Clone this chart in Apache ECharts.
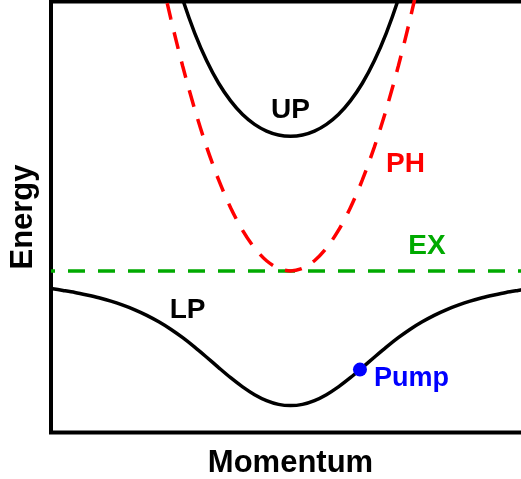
<!DOCTYPE html>
<html>
<head>
<meta charset="utf-8">
<script src="https://cdn.jsdelivr.net/npm/echarts@6/dist/echarts.min.js"></script>
<style>
  html, body { margin: 0; padding: 0; background: #fff; overflow: hidden; }
  /* the frame runs past the right edge of the window */
  #chart { width: 530px; height: 479px; }
</style>
</head>
<body>
<div id="chart"></div>
<script>
// In-plane momentum samples (arbitrary units, centred on k = 0)
const momentum = [
  -1.00, -0.95, -0.90, -0.85, -0.80, -0.75, -0.70, -0.65, -0.60, -0.55, -0.50,
  -0.45, -0.40, -0.35, -0.30, -0.25, -0.20, -0.15, -0.10, -0.05, 0.00,
  0.05, 0.10, 0.15, 0.20, 0.25, 0.30, 0.35, 0.40, 0.45, 0.50,
  0.55, 0.60, 0.65, 0.70, 0.75, 0.80, 0.85, 0.90, 0.95, 1.00
];
// Lower polariton branch energy (exciton level = 0)
const lowerPolariton = [
  -0.131, -0.145, -0.160, -0.179, -0.200, -0.225, -0.255, -0.289, -0.330, -0.378, -0.433,
  -0.496, -0.566, -0.641, -0.718, -0.793, -0.861, -0.919, -0.963, -0.991, -1.000,
  -0.991, -0.963, -0.919, -0.861, -0.793, -0.718, -0.641, -0.566, -0.496, -0.433,
  -0.378, -0.330, -0.289, -0.255, -0.225, -0.200, -0.179, -0.160, -0.145, -0.131
];
// Momentum samples near the band centre (upper branch and photon)
const momentumNear = [
  -0.60, -0.55, -0.50, -0.45, -0.40, -0.35, -0.30, -0.25, -0.20, -0.15, -0.10, -0.05, 0.00,
  0.05, 0.10, 0.15, 0.20, 0.25, 0.30, 0.35, 0.40, 0.45, 0.50, 0.55, 0.60
];
const upperPolariton = [
  3.030, 2.647, 2.308, 2.015, 1.766, 1.560, 1.393, 1.262, 1.161, 1.088, 1.038, 1.009, 1.000,
  1.009, 1.038, 1.088, 1.161, 1.262, 1.393, 1.560, 1.766, 2.015, 2.308, 2.647, 3.030
];
const photon = [
  2.700, 2.269, 1.875, 1.519, 1.200, 0.919, 0.675, 0.469, 0.300, 0.169, 0.075, 0.019, 0.000,
  0.019, 0.075, 0.169, 0.300, 0.469, 0.675, 0.919, 1.200, 1.519, 1.875, 2.269, 2.700
];
// Flat exciton level
const excitonMomentum = [-1.00, 1.00];
const exciton = [0.00, 0.00];
// Pump point on the lower branch
const pumpMomentum = 0.29;
const pumpEnergy = -0.733;

// Branch names and where they are written (data coordinates)
const branchNames = ['UP', 'PH', 'EX', 'LP'];
const branchColors = ['#000000', '#ff0000', '#00aa00', '#000000'];
const branchLabelAt = [[0.00, 1.195], [0.48, 0.795], [0.57, 0.185], [-0.43, -0.29]];

const FONT = '"Liberation Sans", Arial, sans-serif';
const zip = (xs, ys) => xs.map((x, i) => [x, ys[i]]);

const chart = echarts.init(document.getElementById('chart'), null, { renderer: 'canvas' });

chart.setOption({
  animation: false,
  backgroundColor: '#ffffff',
  grid: {
    left: 51, right: 0, top: 1.5, bottom: 46.5,
    outerBoundsMode: 'none',
    show: true, borderColor: '#000', borderWidth: 4, backgroundColor: 'transparent'
  },
  xAxis: {
    type: 'value', min: -1, max: 1,
    name: 'Momentum', nameLocation: 'middle', nameGap: 15,
    nameTextStyle: { fontSize: 31, fontWeight: 'bold', color: '#000', fontFamily: FONT },
    axisLine: { show: false }, axisTick: { show: false },
    axisLabel: { show: false }, splitLine: { show: false }
  },
  yAxis: {
    type: 'value', min: -1.2, max: 2,
    name: 'Energy', nameLocation: 'middle', nameGap: 12,
    nameTextStyle: { fontSize: 31, fontWeight: 'bold', color: '#000', fontFamily: FONT },
    axisLine: { show: false }, axisTick: { show: false },
    axisLabel: { show: false }, splitLine: { show: false }
  },
  series: [
    {
      name: 'EX', type: 'line', data: zip(excitonMomentum, exciton),
      symbol: 'none', z: 2,
      lineStyle: { color: '#00aa00', width: 3.5, type: [17, 13], dashOffset: 13 }
    },
    {
      name: 'PH', type: 'line', data: zip(momentumNear, photon),
      symbol: 'none', smooth: 0.3, z: 3,
      lineStyle: { color: '#ff0000', width: 3.5, type: [17, 13], dashOffset: 22 }
    },
    {
      name: 'UP', type: 'line', data: zip(momentumNear, upperPolariton),
      symbol: 'none', smooth: 0.3, z: 3,
      lineStyle: { color: '#000', width: 3.5 }
    },
    {
      name: 'LP', type: 'line', data: zip(momentum, lowerPolariton),
      symbol: 'none', smooth: 0.3, z: 3,
      lineStyle: { color: '#000', width: 3.5 }
    },
    {
      name: 'Pump', type: 'scatter', data: [[pumpMomentum, pumpEnergy]],
      symbolSize: 14, z: 5,
      itemStyle: { color: '#0000ff', opacity: 1 },
      label: {
        show: true, position: 'right', distance: 7, offset: [0, 9],
        formatter: 'Pump', color: '#0000ff',
        fontSize: 27, fontWeight: 'bold', fontFamily: FONT
      }
    },
    {
      name: 'branch labels', type: 'scatter', symbolSize: 0, z: 6, silent: true,
      itemStyle: { opacity: 1 },
      data: branchNames.map((n, i) => ({
        value: branchLabelAt[i],
        label: {
          show: true, position: 'inside', formatter: n, color: branchColors[i],
          fontSize: 28, fontWeight: 'bold', fontFamily: FONT
        }
      }))
    }
  ]
});
</script>
</body>
</html>
